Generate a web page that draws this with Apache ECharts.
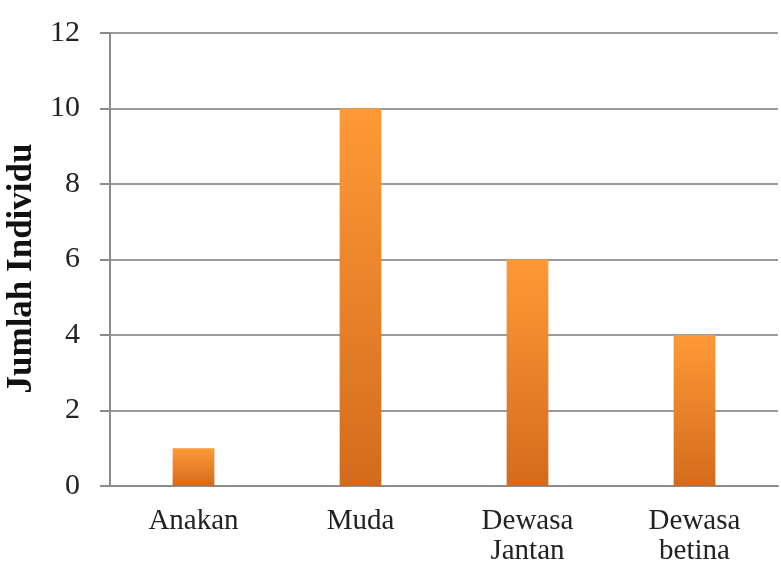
<!DOCTYPE html>
<html>
<head>
<meta charset="utf-8">
<script src="https://cdn.jsdelivr.net/npm/echarts@6/dist/echarts.min.js"></script>
<style>html,body{margin:0;padding:0;background:#fff}#c{width:781px;height:561px}</style>
</head>
<body>
<div id="c"></div>
<script>
const categories = ['Anakan', 'Muda', 'Dewasa\nJantan', 'Dewasa\nbetina'];
const values = [1, 10, 6, 4];
const yTicks = { min: 0, max: 12, interval: 2 };
const yAxisName = 'Jumlah Individu';

const chart = echarts.init(document.getElementById('c'), null, { renderer: 'canvas' });
const serif = '"Liberation Serif", "Times New Roman", serif';
chart.setOption({
  animation: false,
  backgroundColor: '#ffffff',
  grid: { left: 110, right: 3, top: 33, bottom: 75, containLabel: false, outerBoundsMode: 'none' },
  xAxis: {
    type: 'category',
    data: categories,
    axisLine: { lineStyle: { color: '#8c8c8c', width: 2 } },
    axisTick: { show: false },
    axisLabel: { color: '#222', fontFamily: serif, fontSize: 29, lineHeight: 30, margin: 20, interval: 0 }
  },
  yAxis: {
    type: 'value',
    min: yTicks.min, max: yTicks.max, interval: yTicks.interval,
    name: yAxisName,
    nameLocation: 'middle',
    nameGap: 62,
    nameTextStyle: { color: '#111', fontFamily: serif, fontSize: 35, fontWeight: 'bold', padding: [0, 18, 0, 0] },
    axisLine: { show: true, lineStyle: { color: '#8c8c8c', width: 2 } },
    axisTick: { show: true, length: 10, lineStyle: { color: '#8c8c8c', width: 2 } },
    splitLine: { lineStyle: { color: '#9a9a9a', width: 2 } },
    axisLabel: { color: '#222', fontFamily: serif, fontSize: 30, margin: 30 }
  },
  series: [{
    type: 'bar',
    data: values,
    barWidth: '25%',
    itemStyle: {
      color: new echarts.graphic.LinearGradient(0, 0, 0, 1, [
        { offset: 0, color: '#fd9a36' },
        { offset: 1, color: '#d26c1d' }
      ])
    }
  }]
});
</script>
</body>
</html>
